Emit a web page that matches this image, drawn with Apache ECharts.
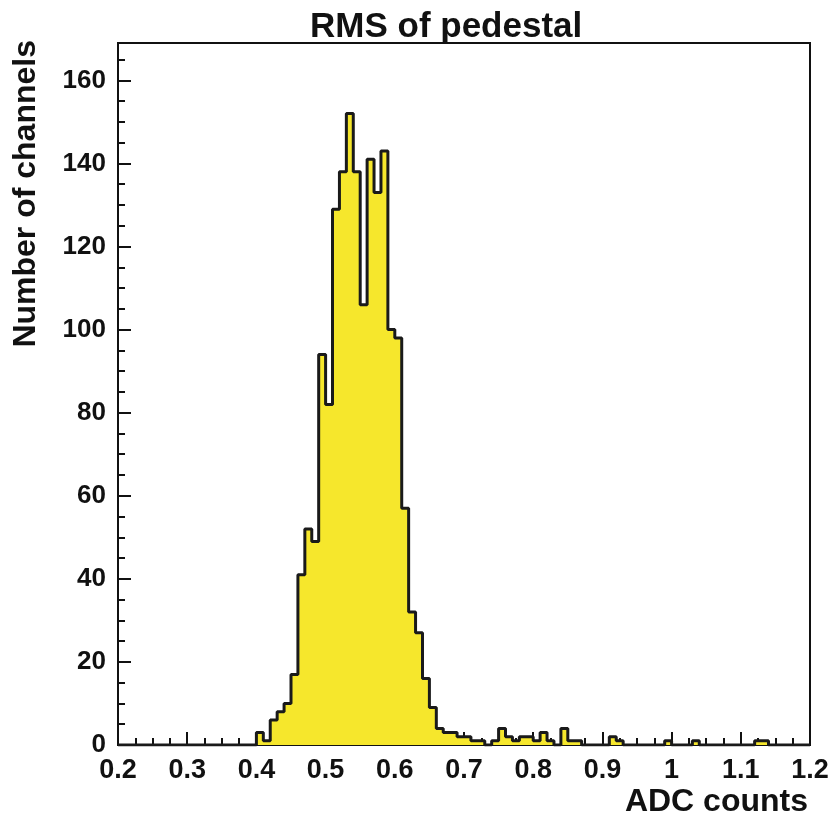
<!DOCTYPE html>
<html>
<head>
<meta charset="utf-8">
<script src="https://cdn.jsdelivr.net/npm/echarts@6/dist/echarts.min.js"></script>
<style>
html,body{margin:0;padding:0;background:#fff;}
#c{width:834px;height:818px;}
</style>
</head>
<body>
<div id="c"></div>
<script>
// Histogram: bin lower edges from 0.20 to 1.19 in steps of 0.01
var binStart = 0.2;
var binWidth = 0.01;
var counts = [
  0,0,0,0,0,0,0,0,0,0,          // 0.20-0.29
  0,0,0,0,0,0,0,0,0,0,          // 0.30-0.39
  3,1,6,8,10,17,41,52,49,94,    // 0.40-0.49
  82,129,138,152,138,106,141,133,143,100, // 0.50-0.59
  98,57,32,27,16,9,4,3,3,2,     // 0.60-0.69
  2,1,1,0,1,4,2,1,2,2,          // 0.70-0.79
  1,3,1,0,4,1,1,0,0,0,          // 0.80-0.89
  0,2,1,0,0,0,0,0,0,1,          // 0.90-0.99
  0,0,0,1,0,0,0,0,0,0,          // 1.00-1.09
  0,0,1,1,0,0,0,0,0,0           // 1.10-1.19
];
var xTickLabels = ['0.2','0.3','0.4','0.5','0.6','0.7','0.8','0.9','1','1.1','1.2'];
var yTickLabels = ['0','20','40','60','80','100','120','140','160'];

var titleText = 'RMS of pedestal';
var xTitle = 'ADC counts';
var yTitle = 'Number of channels';

var pts = [];
for (var i = 0; i < counts.length; i++) {
  pts.push([+(binStart + i * binWidth).toFixed(2), counts[i]]);
}
pts.push([+(binStart + counts.length * binWidth).toFixed(2), counts[counts.length - 1]]);

var FONT = 'Liberation Sans, Arial, Helvetica, sans-serif';
var chart = echarts.init(document.getElementById('c'), null, {renderer: 'canvas'});
chart.setOption({
  animation: false,
  backgroundColor: '#ffffff',
  title: {
    text: titleText, left: 305, top: 5,
    textStyle: {fontFamily: FONT, fontWeight: 'bold', fontSize: 35, color: '#111'}
  },
  grid: {left: 118, right: 24, top: 43, bottom: 73, show: true, borderColor: '#111', borderWidth: 2, backgroundColor: 'transparent'},
  xAxis: {
    type: 'value', min: 0.2, max: 1.2, interval: 0.1,
    axisLine: {show: true, onZero: false, lineStyle: {color: '#111', width: 2}},
    axisTick: {show: true, inside: true, length: 13, lineStyle: {color: '#111', width: 2}},
    minorTick: {show: true, splitNumber: 4, length: 7, lineStyle: {color: '#111', width: 2}},
    splitLine: {show: false},
    axisLabel: {
      margin: 12, fontFamily: FONT, fontWeight: 'bold', fontSize: 27, color: '#111',
      formatter: function (v) { var idx = Math.round((v - 0.2) / 0.1); return xTickLabels[idx] || ''; }
    }
  },
  yAxis: {
    type: 'value', min: 0, max: 169, interval: 20,
    axisLine: {show: true, lineStyle: {color: '#111', width: 2}},
    axisTick: {show: true, inside: true, length: 13, lineStyle: {color: '#111', width: 2}},
    minorTick: {show: true, splitNumber: 4, length: 7, lineStyle: {color: '#111', width: 2}},
    splitLine: {show: false},
    axisLabel: {
      margin: 12, fontFamily: FONT, fontWeight: 'bold', fontSize: 26, color: '#111', showMaxLabel: false,
      formatter: function (v) { var idx = Math.round(v / 20); return (v % 20 === 0 && yTickLabels[idx]) ? yTickLabels[idx] : ''; }
    }
  },
  graphic: [
    {type: 'text', right: 26, top: 786, style: {text: xTitle, font: 'bold 32px ' + FONT, fill: '#111'}},
    {type: 'text', left: 10, top: 40, rotation: Math.PI / 2, style: {text: yTitle, font: 'bold 32px ' + FONT, fill: '#111'}}
  ],
  series: [{
    type: 'line', data: pts, step: 'end', symbol: 'none',
    lineStyle: {color: '#1a1a1a', width: 3},
    areaStyle: {color: '#f6e72c', opacity: 1, origin: 'start'},
    z: 1
  }]
});
</script>
</body>
</html>
